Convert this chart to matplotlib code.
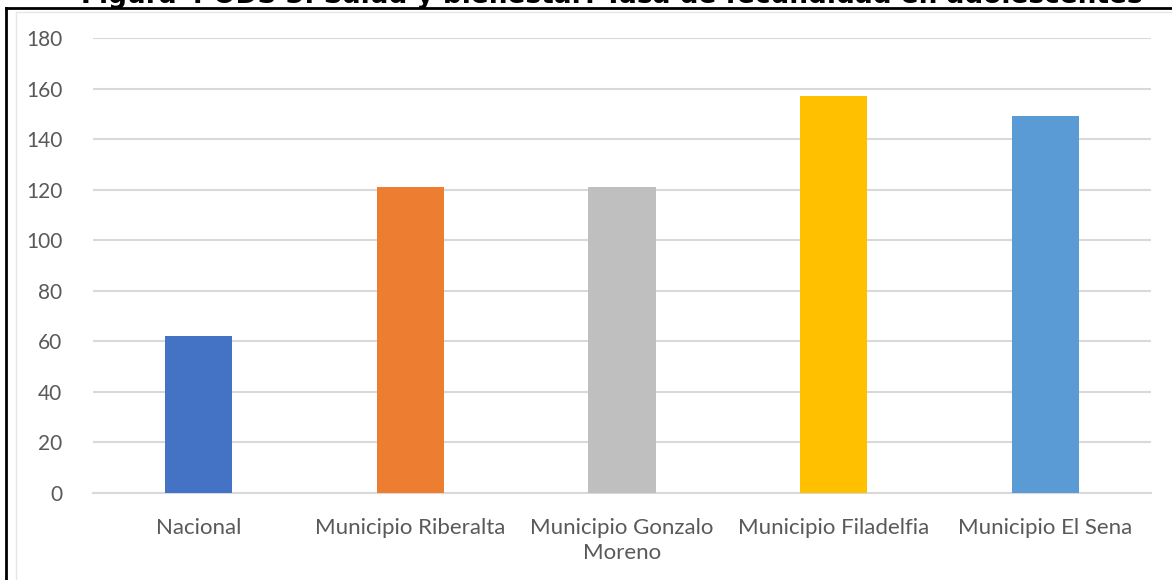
import matplotlib
matplotlib.use("Agg")
import matplotlib.pyplot as plt
from matplotlib.lines import Line2D

categories = ["Nacional", "Municipio Riberalta", "Municipio Gonzalo\nMoreno",
              "Municipio Filadelfia", "Municipio El Sena"]
values = [62, 121, 121, 157, 149]
colors = ["#4472C4", "#ED7D31", "#BFBFBF", "#FFC000", "#5B9BD5"]
yticks = [0, 20, 40, 60, 80, 100, 120, 140, 160, 180]
title = "Figura 4 ODS 3: Salud y bienestar: Tasa de fecundidad en adolescentes"

plt.rcParams["font.family"] = ["Lato", "DejaVu Sans"]

W, H = 1172, 580
fig = plt.figure(figsize=(W / 100, H / 100), dpi=100)
ax = fig.add_axes([93 / W, 1 - 493 / H, (1151 - 93) / W, (493 - 38) / H])

x = range(len(categories))
ax.bar(x, values, width=0.317, color=colors, zorder=3)

ax.set_ylim(0, 180)
ax.set_xlim(-0.5, len(categories) - 0.5)
ax.set_yticks(yticks)
ax.set_xticks(list(x))
ax.set_xticklabels(categories, linespacing=1.3)
ax.tick_params(axis="y", length=0, labelsize=15, colors="#595959", pad=22)
ax.tick_params(axis="x", length=0, labelsize=16, colors="#595959", pad=18)
ax.grid(axis="y", color="#D9D9D9", linewidth=1.5, zorder=0)
for s in ["top", "right", "left"]:
    ax.spines[s].set_visible(False)
ax.spines["bottom"].set_color("#D9D9D9")
ax.spines["bottom"].set_linewidth(1.5)

# frame lines seen in the source document
fig.add_artist(Line2D([6 / W, 6 / W], [0, 1 - 8 / H], color="black", linewidth=2))
fig.add_artist(Line2D([6 / W, 1], [1 - 8 / H, 1 - 8 / H], color="black", linewidth=2))
fig.add_artist(Line2D([16 / W, 16 / W], [0, 1 - 12 / H], color="#E6E6E6", linewidth=1))
fig.add_artist(Line2D([16 / W, 1], [1 - 12 / H, 1 - 12 / H], color="#E6E6E6", linewidth=1))

fig.text(612 / W, 1 - 3 / H, title, ha="center", va="baseline",
         fontsize=19, fontweight="bold", family="DejaVu Sans")

fig.savefig("out.png", dpi=100)
